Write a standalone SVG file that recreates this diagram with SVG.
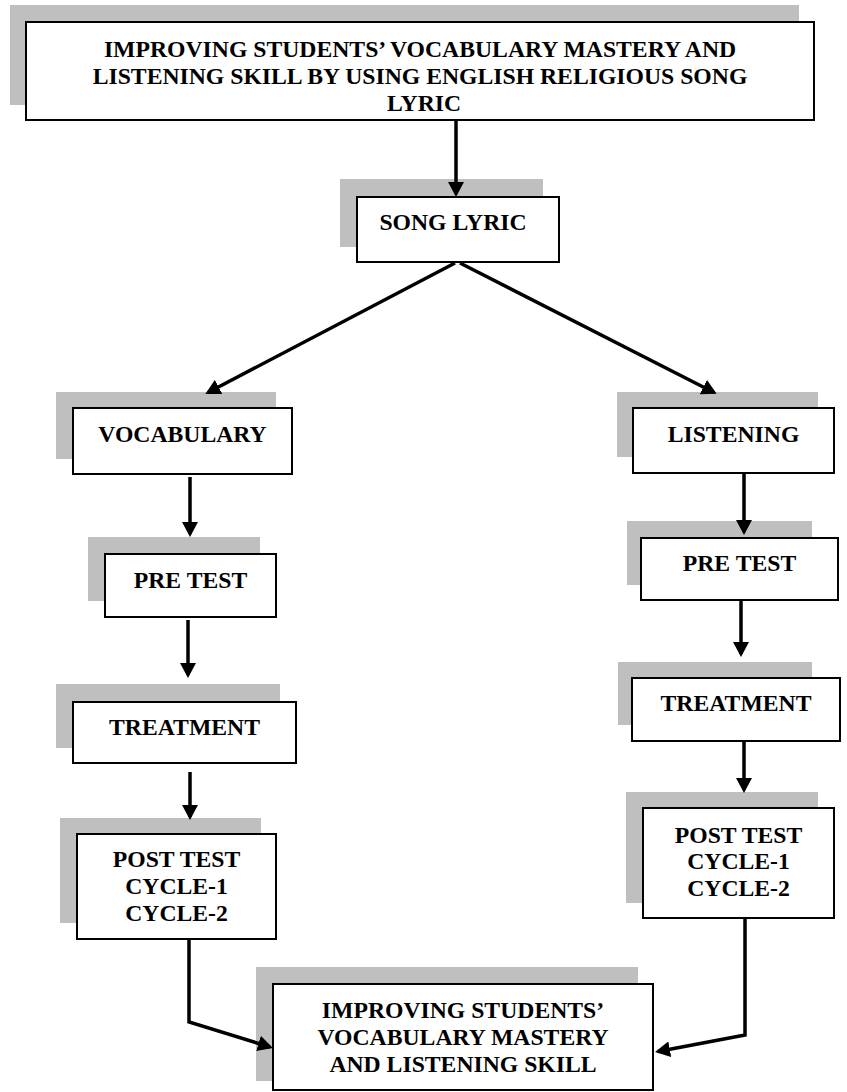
<svg xmlns="http://www.w3.org/2000/svg" width="847" height="1092" viewBox="0 0 847 1092">
<defs>
<style>
.sh{fill:#bfbfbf;stroke:none}
.bx{fill:#ffffff;stroke:#000000;stroke-width:2}
.t{font-family:"Liberation Serif","Times New Roman",serif;font-weight:bold;font-size:23.7px;fill:#000000;text-anchor:middle}
.c{fill:none;stroke:#000000;stroke-width:3.5;stroke-linejoin:miter}
</style>
<marker id="ah" markerUnits="userSpaceOnUse" markerWidth="16" markerHeight="16" refX="12" refY="8" orient="auto" viewBox="0 0 16 16">
<path d="M0,0 L15,8 L0,16 Z" fill="#000000"/>
</marker>
</defs>
<rect x="0" y="0" width="847" height="1092" fill="#ffffff"/>

<g id="title">
<rect class="sh" x="10" y="5" width="789" height="100"/>
<rect class="bx" x="26" y="22" width="788" height="98"/>
<text class="t" x="420" y="57">IMPROVING STUDENTS’ VOCABULARY MASTERY AND</text>
<text class="t" x="420" y="84">LISTENING SKILL BY USING ENGLISH RELIGIOUS SONG</text>
<text class="t" x="424" y="111">LYRIC</text>
</g>

<g id="song-lyric">
<rect class="sh" x="340" y="179" width="203" height="68"/>
<rect class="bx" x="357" y="197" width="202" height="65"/>
<text class="t" x="453" y="230">SONG LYRIC</text>
</g>

<g id="vocabulary">
<rect class="sh" x="56" y="392" width="220" height="67"/>
<rect class="bx" x="73" y="408" width="219" height="66"/>
<text class="t" x="182.5" y="442">VOCABULARY</text>
</g>

<g id="listening">
<rect class="sh" x="617" y="392" width="201" height="65"/>
<rect class="bx" x="633" y="408" width="201" height="65"/>
<text class="t" x="733.5" y="442">LISTENING</text>
</g>

<g id="pre-test-left">
<rect class="sh" x="88" y="537" width="172" height="64"/>
<rect class="bx" x="105" y="554" width="171" height="63"/>
<text class="t" x="190.5" y="588">PRE TEST</text>
</g>

<g id="treatment-left">
<rect class="sh" x="56" y="684" width="224" height="64"/>
<rect class="bx" x="73" y="702" width="223" height="61"/>
<text class="t" x="184.5" y="735">TREATMENT</text>
</g>

<g id="post-test-left">
<rect class="sh" x="60" y="818" width="201" height="105"/>
<rect class="bx" x="77" y="834" width="199" height="105"/>
<text class="t" x="176.5" y="867">POST TEST</text>
<text class="t" x="176.5" y="894">CYCLE-1</text>
<text class="t" x="176.5" y="921">CYCLE-2</text>
</g>

<g id="pre-test-right">
<rect class="sh" x="627" y="521" width="185" height="64"/>
<rect class="bx" x="641" y="538" width="197" height="62"/>
<text class="t" x="739.5" y="571">PRE TEST</text>
</g>

<g id="treatment-right">
<rect class="sh" x="618" y="662" width="194" height="63"/>
<rect class="bx" x="632" y="678" width="208" height="63"/>
<text class="t" x="736" y="711">TREATMENT</text>
</g>

<g id="post-test-right">
<rect class="sh" x="626" y="792" width="192" height="111"/>
<rect class="bx" x="643" y="808" width="191" height="110"/>
<text class="t" x="738.5" y="843">POST TEST</text>
<text class="t" x="738.5" y="869">CYCLE-1</text>
<text class="t" x="738.5" y="896">CYCLE-2</text>
</g>

<g id="result">
<rect class="sh" x="256" y="967" width="382" height="114"/>
<rect class="bx" x="273" y="984" width="380" height="106"/>
<text class="t" x="463" y="1018">IMPROVING STUDENTS’</text>
<text class="t" x="463" y="1045">VOCABULARY MASTERY</text>
<text class="t" x="463" y="1072">AND LISTENING SKILL</text>
</g>

<g id="connectors">
<line class="c" x1="456" y1="121" x2="456" y2="194" marker-end="url(#ah)"/>
<line class="c" x1="455" y1="263" x2="208" y2="392.5" marker-end="url(#ah)"/>
<line class="c" x1="460" y1="263" x2="714" y2="392.5" marker-end="url(#ah)"/>
<line class="c" x1="190" y1="477" x2="190" y2="534" marker-end="url(#ah)"/>
<line class="c" x1="188" y1="620" x2="188" y2="675" marker-end="url(#ah)"/>
<line class="c" x1="190" y1="772" x2="190" y2="817" marker-end="url(#ah)"/>
<polyline class="c" points="189,940 189,1022 270,1047" marker-end="url(#ah)"/>
<line class="c" x1="744" y1="474" x2="744" y2="532" marker-end="url(#ah)"/>
<line class="c" x1="741" y1="601" x2="741" y2="654" marker-end="url(#ah)"/>
<line class="c" x1="744" y1="742" x2="744" y2="790" marker-end="url(#ah)"/>
<polyline class="c" points="745,919 745,1035 658,1051.5" marker-end="url(#ah)"/>
</g>
</svg>
